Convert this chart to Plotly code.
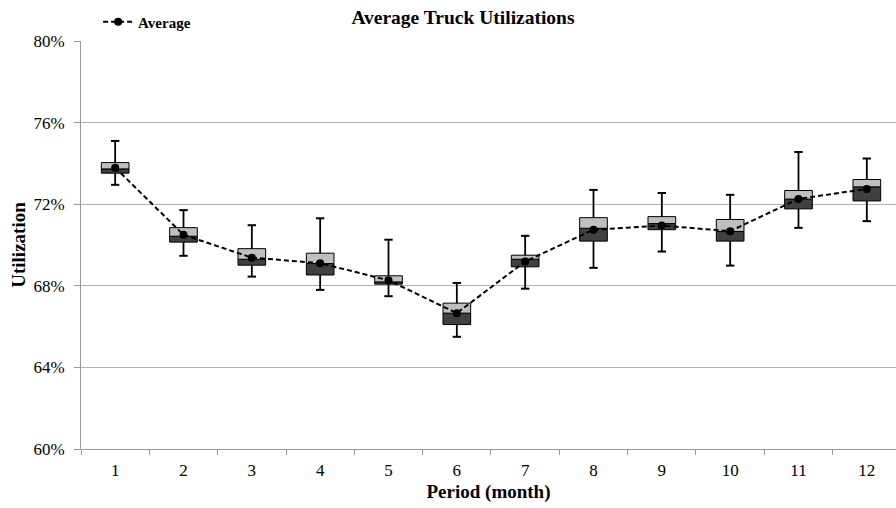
import plotly.graph_objects as go

periods = ["1", "2", "3", "4", "5", "6", "7", "8", "9", "10", "11", "12"]
whisker_max = [75.10, 71.71, 70.97, 71.31, 70.26, 68.14, 70.45, 72.70, 72.55, 72.46, 74.56, 74.24]
q3 = [74.04, 70.85, 69.82, 69.60, 68.49, 67.15, 69.50, 71.34, 71.39, 71.25, 72.67, 73.21]
median = [73.73, 70.43, 69.30, 69.09, 68.19, 66.66, 69.30, 70.82, 71.05, 70.66, 72.25, 72.85]
q1 = [73.52, 70.14, 69.01, 68.53, 68.08, 66.10, 68.93, 70.19, 70.75, 70.19, 71.77, 72.16]
whisker_min = [72.95, 69.47, 68.45, 67.80, 67.49, 65.50, 67.86, 68.88, 69.68, 68.99, 70.84, 71.17]
average = [73.79, 70.50, 69.38, 69.11, 68.27, 66.66, 69.19, 70.75, 70.95, 70.68, 72.26, 72.75]
y_ticks = [60, 64, 68, 72, 76, 80]
y_tick_labels = ["60%", "64%", "68%", "72%", "76%", "80%"]

FONT = "Liberation Serif, Times New Roman, serif"

fig = go.Figure()

# whiskers (upper and lower segments)
wx, wy = [], []
for p, lo, a, b, hi in zip(periods, whisker_min, q1, q3, whisker_max):
    wx += [p, p, None, p, p, None]
    wy += [b, hi, None, lo, a, None]
fig.add_trace(go.Scatter(x=wx, y=wy, mode="lines", line=dict(color="black", width=1.8),
                         showlegend=False, hoverinfo="skip"))
# caps
fig.add_trace(go.Scatter(x=periods + periods, y=whisker_max + whisker_min, mode="markers",
                         marker=dict(symbol="line-ew", size=6, line=dict(color="black", width=2)),
                         showlegend=False, hoverinfo="skip"))

# lower box (Q1 -> median)
fig.add_trace(go.Bar(x=periods, y=[m - a for m, a in zip(median, q1)], base=q1,
                     width=0.405, marker=dict(color="#404040", line=dict(color="black", width=1)),
                     showlegend=False))
# upper box (median -> Q3)
fig.add_trace(go.Bar(x=periods, y=[b - m for b, m in zip(q3, median)], base=median,
                     width=0.405, marker=dict(color="#bfbfbf", line=dict(color="black", width=1)),
                     showlegend=False))

fig.add_trace(go.Scatter(x=periods, y=average, mode="lines+markers", name="Average",
                         line=dict(color="black", width=2, dash="5px,3px"),
                         marker=dict(color="black", size=8)))

fig.update_layout(
    width=896, height=508,
    margin=dict(l=81, r=0, t=41, b=59),
    paper_bgcolor="white", plot_bgcolor="white",
    barmode="overlay",
    font=dict(family=FONT, color="black", size=17),
    title=dict(text="<b>Average Truck Utilizations</b>", x=463 / 896, xanchor="center",
               y=1 - 17 / 508, yanchor="middle", font=dict(size=19.5, family=FONT)),
    legend=dict(x=0.021, y=1.0466, xanchor="left", yanchor="middle", orientation="h",
                font=dict(size=15, family=FONT, weight="bold"), bgcolor="rgba(0,0,0,0)"),
    xaxis=dict(type="category", range=[-0.5, 11.427], tickson="boundaries",
               ticks="outside", ticklen=5, tickcolor="#999999", showline=True,
               linecolor="#999999", linewidth=1, showgrid=False, ticklabelstandoff=6,
               title=dict(text="<b>Period (month)</b>", font=dict(size=19), standoff=5),
               tickfont=dict(size=17)),
    yaxis=dict(range=[60, 80], tickvals=y_ticks, ticktext=y_tick_labels, ticks="outside", ticklen=6,
               tickcolor="#999999", showline=True, linecolor="#999999", linewidth=1,
               showgrid=True, gridcolor="#b0b0b0", gridwidth=1, zeroline=False,
               ticklabelstandoff=6,
               title=dict(text="<b>Utilization</b>", font=dict(size=19), standoff=2),
               tickfont=dict(size=17)),
)

fig.write_html("out.html")
